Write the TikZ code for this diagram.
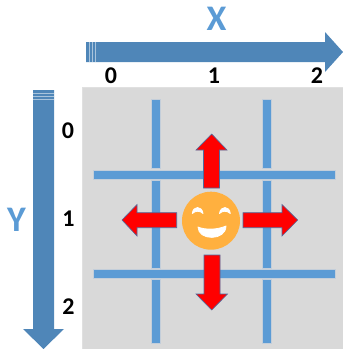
\documentclass[tikz,border=0pt]{standalone}
\usepackage{fontspec}
\setmainfont{Carlito}
\definecolor{axisblue}{HTML}{4F86B8}
\definecolor{lineblue}{HTML}{5B9BD5}
\definecolor{panel}{HTML}{D9D9D9}
\definecolor{halo}{HTML}{C3CEDA}
\definecolor{stripe}{HTML}{A9C4DC}
\definecolor{redborder}{HTML}{4F6A9E}
\definecolor{smile}{HTML}{FFB03F}
\tikzset{
  axislabel/.style={text=lineblue,font=\fontsize{36}{36}\bfseries\selectfont,inner sep=0pt},
  digit/.style={text=black,font=\fontsize{24}{24}\bfseries\selectfont,inner sep=0pt},
  gridline/.style={fill=lineblue,draw=halo,line width=.6pt},
  redarrow/.style={fill=red,draw=redborder,line width=.6pt,line join=miter},
  axisarrow/.style={fill=axisblue,draw=none},
  stripeline/.style={draw=stripe,line width=.8pt},
  faceshape/.style={fill=white,draw=white,line width=.8pt,line join=round}
}
\begin{document}
\begin{tikzpicture}[x=1pt,y=-1pt]
\useasboundingbox (0,0) rectangle (343,349);
% panel
\fill[panel,draw=black!12,line width=.5pt] (82,87) rectangle (343,349);
% vertical grid segments
\foreach \xa in {151.7,262}{
  \path[gridline] (\xa,99) rectangle (\xa+9,168);
  \path[gridline] (\xa,180) rectangle (\xa+9,268);
  \path[gridline] (\xa,279) rectangle (\xa+9,343);
}
% horizontal grid lines
\path[gridline] (93,170) rectangle (335,179);
\path[gridline] (93,269.5) rectangle (335,278);
% X axis
\path[axisarrow] (86,42) -- (325,42) -- (325,32) -- (343,52) -- (325,72) -- (325,62) -- (86,62) -- cycle;
\draw[stripeline] (89,42) -- (89,62) (92,42) -- (92,62) (95,42) -- (95,62);
% Y axis
\path[axisarrow] (33,90) -- (54,90) -- (54,329) -- (64,329) -- (43.5,349) -- (23,329) -- (33,329) -- cycle;
\draw[stripeline] (33,93) -- (54,93) (33,96.5) -- (54,96.5) (33,99) -- (54,99);
% red arrows
\path[redarrow] (203.5,188) -- (203.5,150) -- (196,150) -- (211.7,134) -- (227,150) -- (219.5,150) -- (219.5,188) -- cycle;
\path[redarrow] (204,255) -- (220,255) -- (220,294) -- (227.5,294) -- (211.7,310) -- (196,294) -- (204,294) -- cycle;
\path[redarrow] (176.7,212.7) -- (137,212.7) -- (137,204.5) -- (122,220) -- (137,236) -- (137,227.7) -- (176.7,227.7) -- cycle;
\path[redarrow] (243,212.7) -- (282,212.7) -- (282,204.5) -- (297.7,220) -- (282,236) -- (282,227.7) -- (243,227.7) -- cycle;
% smiley
\node[circle,fill=smile,minimum size=58pt,inner sep=0pt] (face) at (211,220.7) {};
\path[faceshape] (192.3,213.5) .. controls (193,205.5) and (202,205.5) .. (203,213.5) .. controls (200,210.5) and (195.5,210.5) .. (192.3,213.5) -- cycle;
\path[faceshape] (219.5,213.5) .. controls (220.5,205.5) and (229.5,205.5) .. (230.3,213.5) .. controls (227,210.5) and (222.5,210.5) .. (219.5,213.5) -- cycle;
\path[faceshape] (198,227) .. controls (205,230) and (217,230) .. (226,226) .. controls (226,241) and (198,241) .. (198,227) -- cycle;
% labels
\node[axislabel] (xlabel) at (216.5,18.5) {X};
\node[axislabel] (ylabel) at (16.5,220) {Y};
\node[digit] (x0) at (111,75.5) {0};
\node[digit] (x1) at (214,75.5) {1};
\node[digit] (x2) at (317,75.5) {2};
\node[digit] (y0) at (68,131) {0};
\node[digit] (y1) at (68.5,218.5) {1};
\node[digit] (y2) at (68.5,307) {2};
\end{tikzpicture}
\end{document}
